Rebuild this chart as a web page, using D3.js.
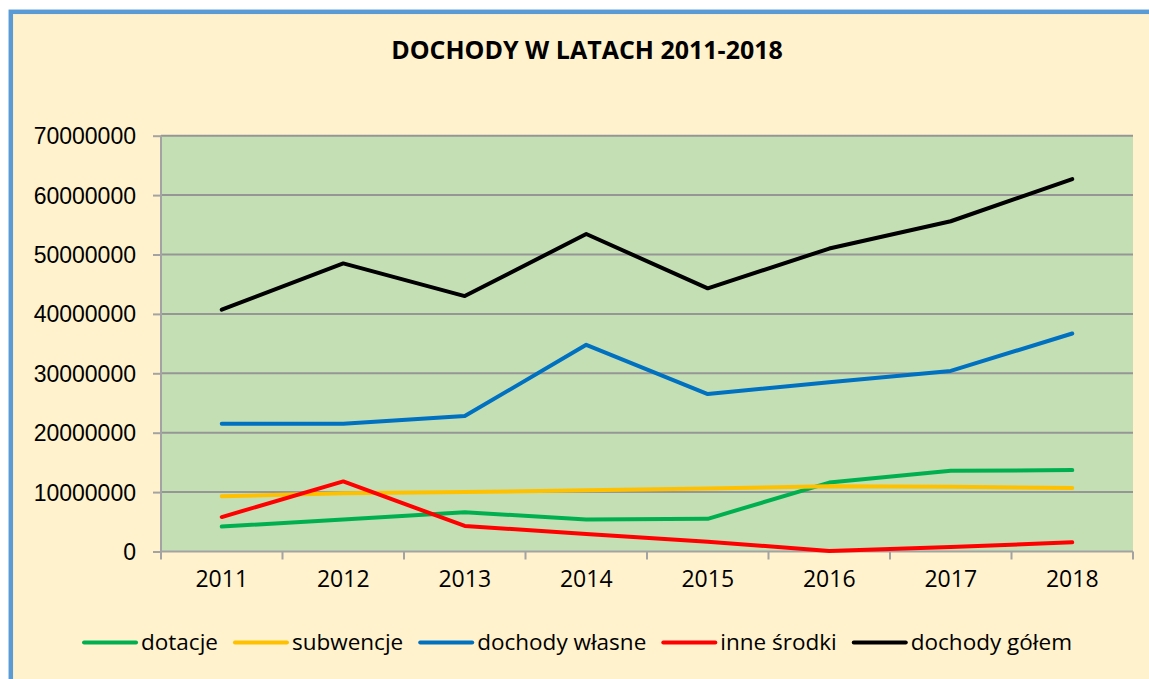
<!DOCTYPE html>
<html>
<head>
<meta charset="utf-8">
<script src="https://cdn.jsdelivr.net/npm/d3@7"></script>
<style>
    body { margin: 0; background: #ffffff; }
    svg { display: block; font-family: 'Open Sans', sans-serif; }
    .axis path, .axis line { stroke: #a3a3a3; stroke-width: 2; }
    .axis text { fill: #000; font-size: 23px; }
    .grid line { stroke: #969696; stroke-width: 2; }
</style>
</head>
<body>
<svg id="chart"></svg>
<script>
// Data
const years = ['2011', '2012', '2013', '2014', '2015', '2016', '2017', '2018'];
const seriesNames = ['dotacje', 'subwencje', 'dochody własne', 'inne środki', 'dochody gółem'];
const seriesColors = ['#00b050', '#ffc000', '#0070c0', '#ff0000', '#000000'];
const dotacje = [4200000, 5400000, 6600000, 5400000, 5500000, 11600000, 13600000, 13700000];
const subwencje = [9300000, 9800000, 10000000, 10300000, 10600000, 11000000, 10900000, 10700000];
const dochodyWlasne = [21500000, 21500000, 22800000, 34800000, 26500000, 28500000, 30400000, 36700000];
const inneSrodki = [5800000, 11800000, 4300000, 2950000, 1650000, 80000, 750000, 1550000];
const dochodyGolem = [40700000, 48500000, 43000000, 53450000, 44300000, 51000000, 55600000, 62700000];
const yTicks = [0, 10000000, 20000000, 30000000, 40000000, 50000000, 60000000, 70000000];
const chartTitle = 'DOCHODY W LATACH 2011-2018';

/**
 * Visual configs.
 */
const visWidth = 1149, visHeight = 679,
    plot = { left: 161, right: 1133, top: 135.7, bottom: 551.5 },
    lineWidth = 4,
    legendY = 642.5,
    legendLine = 52,
    legendTextGap = 5,
    legendItemGap = 17;

const series = [dotacje, subwencje, dochodyWlasne, inneSrodki, dochodyGolem].map((values, i) => ({
    name: seriesNames[i],
    color: seriesColors[i],
    values: values.map((v, j) => ({ year: years[j], value: v }))
}));

const svg = d3.select('#chart').attr('width', visWidth).attr('height', visHeight);

// Background and blue frame
svg.append('rect')
    .attr('x', 10.8).attr('y', 11.8)
    .attr('width', visWidth + 20).attr('height', visHeight + 20)
    .attr('fill', '#fff2cc')
    .attr('stroke', '#5b9bd5')
    .attr('stroke-width', 4.5);

/**
 * D3 scales.
 */
const xScale = d3.scaleBand().domain(years).range([plot.left, plot.right]);
const yScale = d3.scaleLinear().domain([0, 70000000]).range([plot.bottom, plot.top]);

// Plot area
svg.append('rect')
    .attr('x', plot.left).attr('y', plot.top)
    .attr('width', plot.right - plot.left).attr('height', plot.bottom - plot.top)
    .attr('fill', '#c4dfb4');

// Gridlines
svg.append('g').attr('class', 'grid')
    .selectAll('line')
    .data(yTicks.filter(d => d > 0))
    .join('line')
    .attr('x1', plot.left).attr('x2', plot.right)
    .attr('y1', d => yScale(d)).attr('y2', d => yScale(d));

// Y axis
const yAxis = d3.axisLeft(yScale).tickValues(yTicks).tickFormat(d3.format('d')).tickSize(8).tickPadding(17);
svg.append('g').attr('class', 'axis y')
    .attr('transform', 'translate(' + plot.left + ',0)')
    .call(yAxis)
    .call(g => g.select('.domain').attr('d', 'M0,' + plot.top + 'V' + plot.bottom))
    .call(g => g.selectAll('text').attr('dy', '0.35em'));

// X axis, ticks sit on band boundaries
const xAxisG = svg.append('g').attr('class', 'axis x')
    .attr('transform', 'translate(0,' + plot.bottom + ')');
xAxisG.append('line')
    .attr('x1', plot.left).attr('x2', plot.right);
xAxisG.selectAll('.tick-mark')
    .data(years.concat(['end']))
    .join('line')
    .attr('class', 'tick-mark')
    .attr('x1', (d, i) => i < years.length ? xScale(d) : plot.right)
    .attr('x2', (d, i) => i < years.length ? xScale(d) : plot.right)
    .attr('y1', 0).attr('y2', 8);
xAxisG.selectAll('.label')
    .data(years)
    .join('text')
    .attr('class', 'label')
    .attr('x', d => xScale(d) + xScale.bandwidth() / 2)
    .attr('y', 35)
    .attr('text-anchor', 'middle')
    .text(d => d);

// Lines
const line = d3.line()
    .x(d => xScale(d.year) + xScale.bandwidth() / 2)
    .y(d => yScale(d.value));

svg.append('g').attr('class', 'lines')
    .selectAll('path')
    .data(series)
    .join('path')
    .attr('d', d => line(d.values))
    .attr('fill', 'none')
    .attr('stroke', d => d.color)
    .attr('stroke-width', lineWidth)
    .attr('stroke-linejoin', 'round')
    .attr('stroke-linecap', 'round');

// Title
svg.append('text')
    .attr('x', 587).attr('y', 59)
    .attr('text-anchor', 'middle')
    .attr('font-size', '25px')
    .attr('font-weight', 'bold')
    .text(chartTitle);

// Legend
const legend = svg.append('g').attr('class', 'legend');
const items = legend.selectAll('g')
    .data(series)
    .join('g');
items.append('line')
    .attr('x1', 0).attr('x2', legendLine)
    .attr('y1', legendY).attr('y2', legendY)
    .attr('stroke', d => d.color)
    .attr('stroke-width', lineWidth)
    .attr('stroke-linecap', 'round');
items.append('text')
    .attr('x', legendLine + legendTextGap)
    .attr('y', legendY)
    .attr('dy', '0.35em')
    .attr('font-size', '22.5px')
    .text(d => d.name);

let offset = 0;
const widths = [];
items.each(function() {
    const w = legendLine + legendTextGap + d3.select(this).select('text').node().getComputedTextLength();
    widths.push(w);
});
const total = d3.sum(widths) + legendItemGap * (widths.length - 1);
offset = 578 - total / 2;
items.attr('transform', (d, i) => {
    const x = offset;
    offset += widths[i] + legendItemGap;
    return 'translate(' + x + ',0)';
});
</script>
</body>
</html>
